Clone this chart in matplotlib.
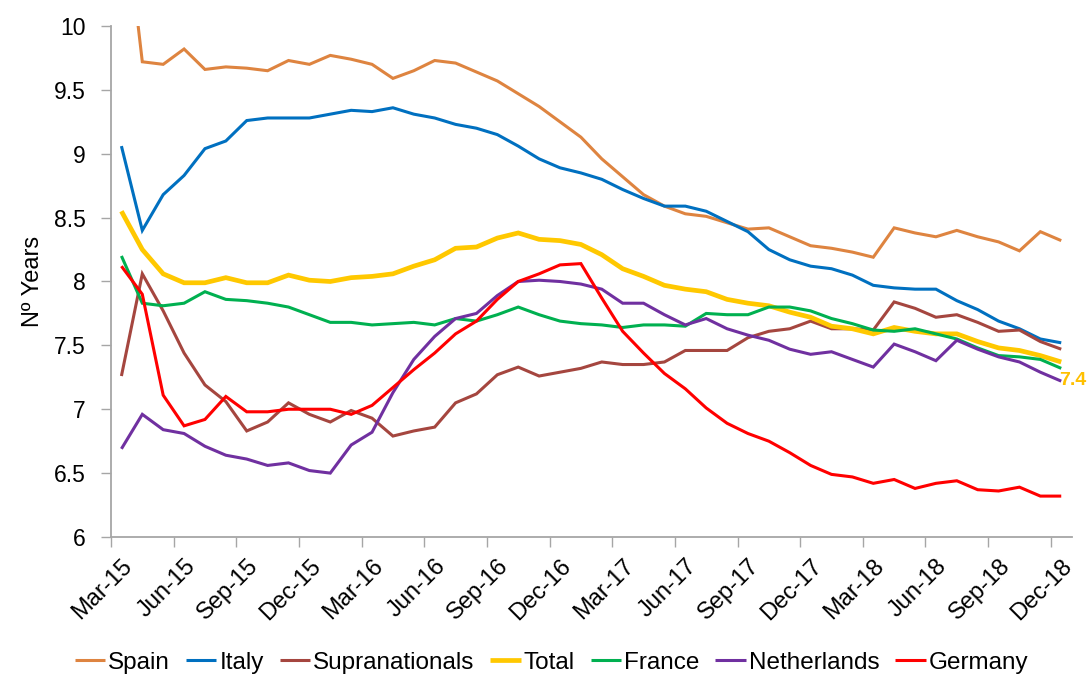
import matplotlib
matplotlib.use("Agg")
from matplotlib import pyplot as plot
from matplotlib.ticker import FixedLocator

#Monthly observations, Mar-15 .. Dec-18
tickLabels:list[str] = ["Mar-15", "Jun-15", "Sep-15", "Dec-15", "Mar-16", "Jun-16", "Sep-16", "Dec-16",
                        "Mar-17", "Jun-17", "Sep-17", "Dec-17", "Mar-18", "Jun-18", "Sep-18", "Dec-18"]

spain:list[float] = [11.13, 9.72, 9.70, 9.82, 9.66, 9.68, 9.67, 9.65, 9.73, 9.70, 9.77, 9.74,
                     9.70, 9.59, 9.65, 9.73, 9.71, 9.64, 9.57, 9.47, 9.37, 9.25, 9.13, 8.96,
                     8.82, 8.68, 8.59, 8.53, 8.51, 8.46, 8.41, 8.42, 8.35, 8.28, 8.26, 8.23,
                     8.19, 8.42, 8.38, 8.35, 8.40, 8.35, 8.31, 8.24, 8.39, 8.32]

italy:list[float] = [9.06, 8.40, 8.68, 8.83, 9.04, 9.10, 9.26, 9.28, 9.28, 9.28, 9.31, 9.34,
                     9.33, 9.36, 9.31, 9.28, 9.23, 9.20, 9.15, 9.06, 8.96, 8.89, 8.85, 8.80,
                     8.72, 8.65, 8.59, 8.59, 8.55, 8.47, 8.39, 8.25, 8.17, 8.12, 8.10, 8.05,
                     7.97, 7.95, 7.94, 7.94, 7.85, 7.78, 7.69, 7.63, 7.55, 7.52]

supranationals:list[float] = [7.26, 8.06, 7.77, 7.44, 7.19, 7.06, 6.83, 6.90, 7.05, 6.96, 6.90, 6.99,
                              6.93, 6.79, 6.83, 6.86, 7.05, 7.12, 7.27, 7.33, 7.26, 7.29, 7.32, 7.37,
                              7.35, 7.35, 7.37, 7.46, 7.46, 7.46, 7.56, 7.61, 7.63, 7.69, 7.63, 7.63,
                              7.62, 7.84, 7.79, 7.72, 7.74, 7.68, 7.61, 7.62, 7.53, 7.47]

total:list[float] = [8.55, 8.25, 8.06, 7.99, 7.99, 8.03, 7.99, 7.99, 8.05, 8.01, 8.00, 8.03,
                     8.04, 8.06, 8.12, 8.17, 8.26, 8.27, 8.34, 8.38, 8.33, 8.32, 8.29, 8.21,
                     8.10, 8.04, 7.97, 7.94, 7.92, 7.86, 7.83, 7.81, 7.76, 7.72, 7.65, 7.63,
                     7.59, 7.64, 7.61, 7.59, 7.59, 7.53, 7.48, 7.46, 7.42, 7.37]

france:list[float] = [8.20, 7.83, 7.81, 7.83, 7.92, 7.86, 7.85, 7.83, 7.80, 7.74, 7.68, 7.68,
                      7.66, 7.67, 7.68, 7.66, 7.71, 7.69, 7.74, 7.80, 7.74, 7.69, 7.67, 7.66,
                      7.64, 7.66, 7.66, 7.65, 7.75, 7.74, 7.74, 7.80, 7.80, 7.77, 7.71, 7.67,
                      7.62, 7.61, 7.63, 7.59, 7.55, 7.48, 7.42, 7.41, 7.39, 7.32]

netherlands:list[float] = [6.69, 6.96, 6.84, 6.81, 6.71, 6.64, 6.61, 6.56, 6.58, 6.52, 6.50, 6.72,
                           6.82, 7.13, 7.39, 7.57, 7.71, 7.75, 7.89, 8.00, 8.01, 8.00, 7.98, 7.94,
                           7.83, 7.83, 7.74, 7.66, 7.71, 7.63, 7.58, 7.54, 7.47, 7.43, 7.45, 7.39,
                           7.33, 7.51, 7.45, 7.38, 7.54, 7.47, 7.41, 7.37, 7.29, 7.22]

germany:list[float] = [8.12, 7.90, 7.11, 6.87, 6.92, 7.10, 6.98, 6.98, 7.00, 7.00, 7.00, 6.96,
                       7.03, 7.17, 7.31, 7.44, 7.59, 7.69, 7.86, 8.00, 8.06, 8.13, 8.14, 7.87,
                       7.61, 7.44, 7.28, 7.16, 7.01, 6.89, 6.81, 6.75, 6.66, 6.56, 6.49, 6.47,
                       6.42, 6.45, 6.38, 6.42, 6.44, 6.37, 6.36, 6.39, 6.32, 6.32]

seriesNames:list[str] = ["Spain", "Italy", "Supranationals", "Total", "France", "Netherlands", "Germany"]
seriesColors:list[str] = ["#DE8440", "#0070C0", "#A5463F", "#FFC800", "#00B050", "#7030A0", "#FF0000"]


def main():
    plot.rcParams["font.family"] = ["Liberation Sans", "DejaVu Sans"]

    figure = plot.figure(figsize=(10.88, 6.74), dpi=100)
    axis = figure.add_axes([0.102, 0.2033, 0.883, 0.7581])

    allSeries = [spain, italy, supranationals, total, france, netherlands, germany]
    months = list(range(len(spain)))

    for values, name, color in zip(allSeries, seriesNames, seriesColors):
        width = 3.4 if name == "Total" else 2.2
        axis.plot(months, values, color=color, linewidth=width, label=name,
                  solid_joinstyle="miter", solid_capstyle="butt")

    #value label on the last Total point
    axis.annotate(f"{total[-1]:.1f}", xy=(months[-1], total[-1]), xytext=(-2, -19),
                  textcoords="offset pixels", color="#FFC000", fontsize=14, fontweight="bold",
                  ha="left", va="center", annotation_clip=False)

    #axes look like the spreadsheet default
    axis.set_xlim(-0.5, len(spain) - 0.5)
    axis.set_ylim(6, 10)
    axis.set_yticks([6 + 0.5 * k for k in range(9)])
    axis.set_yticklabels(["6", "6.5", "7", "7.5", "8", "8.5", "9", "9.5", "10"])

    axis.set_xticks(months[::3])
    axis.set_xticklabels(tickLabels, rotation=45, ha="right", rotation_mode="anchor")
    axis.xaxis.set_minor_locator(FixedLocator([m - 0.5 for m in months[::3]]))
    axis.tick_params(axis="x", which="major", length=0, pad=13, labelsize=17)
    axis.tick_params(axis="x", which="minor", length=7, width=1, color="#A6A6A6", direction="out")
    axis.tick_params(axis="y", length=7, width=1, color="#A6A6A6", direction="out", labelsize=16.5, pad=11)

    for side in ["top", "right"]:
        axis.spines[side].set_visible(False)
    for side in ["left", "bottom"]:
        axis.spines[side].set_color("#A6A6A6")
        axis.spines[side].set_linewidth(1.3)

    axis.set_ylabel("Nº Years", fontsize=17, labelpad=7)

    figure.legend(loc="lower center", bbox_to_anchor=(0.507, -0.032), ncol=7, frameon=False,
                  fontsize=17.5, handlelength=1.25, handletextpad=0.13, columnspacing=0.65)

    plot.savefig("out.png", dpi=100)


if (__name__ == "__main__"):
    main()
